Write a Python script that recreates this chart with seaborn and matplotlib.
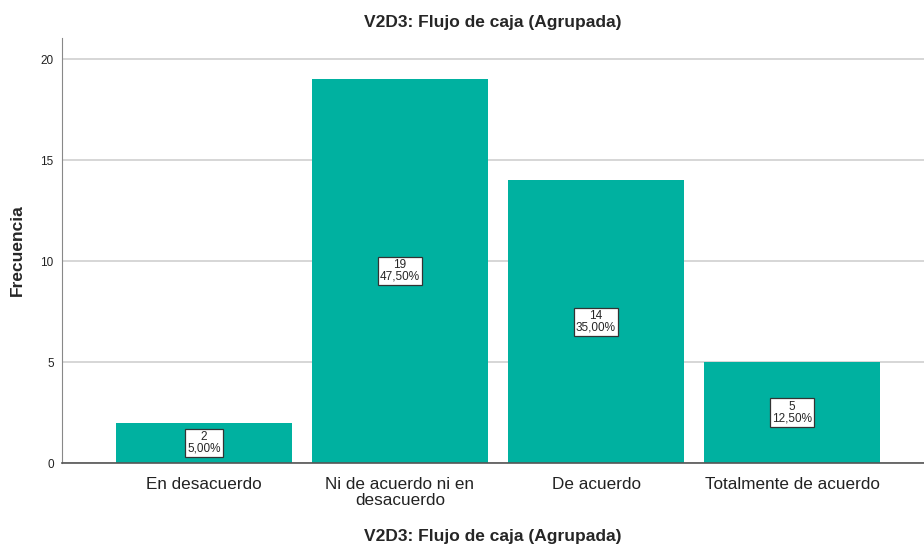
import matplotlib
matplotlib.use("Agg")
import matplotlib.pyplot as plt
import seaborn as sns
import pandas as pd

categories = ["En desacuerdo", "Ni de acuerdo ni en\ndesacuerdo", "De acuerdo", "Totalmente de acuerdo"]
counts = [2, 19, 14, 5]
percents = ["5,00%", "47,50%", "35,00%", "12,50%"]
yticks = [0, 5, 10, 15, 20]

sns.set_style("white")
plt.rcParams['font.family'] = ['Liberation Sans', 'DejaVu Sans']

df = pd.DataFrame({"cat": categories, "n": counts})

fig = plt.figure(figsize=(9.24, 5.46), dpi=100)
ax = fig.add_axes([0.0671, 0.152, 0.9329, 0.778])
ax.set_axisbelow(True)
ax.yaxis.grid(True, color="#d0d0d0", linewidth=1.2)
sns.barplot(data=df, x="cat", y="n", color="#00b1a0", saturation=1, width=0.9,
            edgecolor="none", linewidth=0, ax=ax)
ax.set_xlim(-0.724, 3.673)
ax.set_ylim(0, 21.04)
ax.set_yticks(yticks)
ax.tick_params(axis="y", labelsize=8.5, length=4, color="#444444", width=0.8, pad=2,
               labelcolor="#222222")
ax.tick_params(axis="x", labelsize=12.3, length=0, pad=10, labelcolor="#222222")
for lab in ax.get_xticklabels():
    lab.set_linespacing(1.1)

for i, (c, p) in enumerate(zip(counts, percents)):
    ax.text(i, c / 2, f"{c}\n{p}", ha="center", va="center", fontsize=8.5,
            linespacing=0.95,
            bbox=dict(boxstyle="square,pad=0.2", facecolor="white", edgecolor="#333333", linewidth=0.9))

for s in ["top", "right"]:
    ax.spines[s].set_visible(False)
ax.spines["left"].set_color("#888888")
ax.spines["left"].set_linewidth(0.8)
ax.spines["bottom"].set_color("#555555")
ax.spines["bottom"].set_linewidth(1.2)

ax.set_title("V2D3: Flujo de caja (Agrupada)", fontsize=12.5, fontweight="bold", pad=8)
ax.set_xlabel("V2D3: Flujo de caja (Agrupada)", fontsize=12.5, fontweight="bold", va="center")
ax.set_ylabel("Frecuencia", fontsize=12.5, fontweight="bold", va="center")
ax.yaxis.set_label_coords(-0.052, 0.5)
ax.xaxis.set_label_coords(0.5, -0.172)

fig.savefig("out.png", dpi=100)
